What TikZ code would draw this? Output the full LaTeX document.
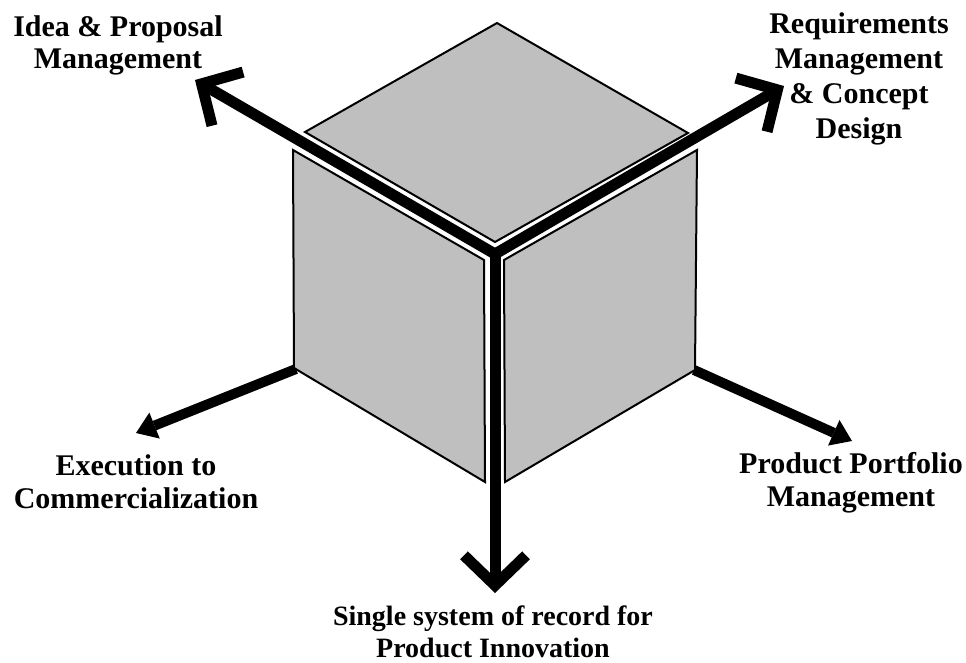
\documentclass[tikz,border=0pt]{standalone}
\usepackage{fontspec}
\setmainfont{Liberation Serif}
\usetikzlibrary{arrows.meta}
\definecolor{facegray}{RGB}{191,191,191}
\newcommand\lblfont[2]{\fontsize{#1}{#2}\selectfont\bfseries}
\begin{document}
\begin{tikzpicture}[x=1pt,y=-1pt,
  face/.style={fill=facegray,draw=black,line width=2pt,line join=miter},
  mainarrow/.style={line width=11pt,draw=black,line join=miter},
  sidearrow/.style={line width=10pt,draw=black,-{Triangle[length=20pt,width=28pt,line width=0pt]}},
  lbl/.style={anchor=north,align=center,inner sep=0pt,text=black}
]
\useasboundingbox (0,0) rectangle (966,663);
% anchor points
\coordinate (J)   at (495,254);
\coordinate (ul)  at (195,80);
\coordinate (ur)  at (784,86);
\coordinate (dn)  at (495,593);
\coordinate (bl0) at (296,369);
\coordinate (bl)  at (136,433);
\coordinate (br0) at (694,370);
\coordinate (br)  at (852,441);
% side arrows (behind the cube)
\draw[sidearrow] (bl0) -- (bl);
\draw[sidearrow] (br0) -- (br);
% cube faces
\draw[face] (497,23) -- (688,133) -- (495,242) -- (305,132) -- cycle;
\draw[face] (293,150) -- (484,260) -- (485,482) -- (294,368) -- cycle;
\draw[face] (504,260) -- (697,150) -- (695,370) -- (505,482) -- cycle;
% main arrows
\draw[mainarrow,{Straight Barb[length=30pt,width=62pt]}-{Straight Barb[length=30pt,width=62pt]}] (ul) -- (J) -- (ur);
\draw[mainarrow,-{Straight Barb[length=30pt,width=62pt]}] (J) -- (dn);
% labels
\node[lbl,font=\lblfont{30}{32}] (t1) at (118,15) {Idea \& Proposal\\Management};
\node[lbl,font=\lblfont{30}{35}] (t2) at (859,12) {Requirements\\Management\\\& Concept\\Design};
\node[lbl,font=\lblfont{30}{33}] (t3) at (136,454) {Execution to\\Commercialization};
\node[lbl,font=\lblfont{30}{33}] (t4) at (851,452) {Product Portfolio\\Management};
\node[lbl,font=\lblfont{28}{32}] (t5) at (493,606) {Single system of record for\\Product Innovation};
\end{tikzpicture}
\end{document}
